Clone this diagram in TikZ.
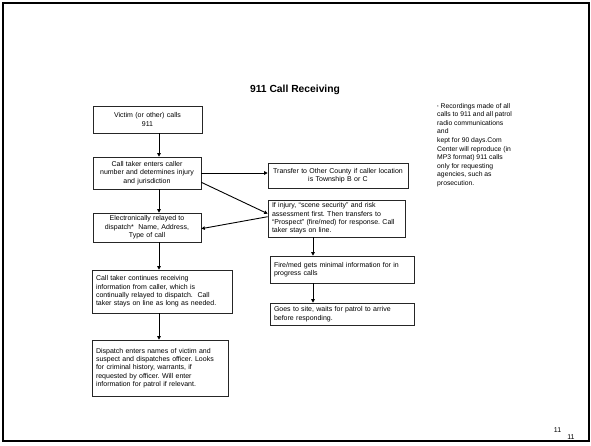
\documentclass[tikz,border=0pt]{standalone}
\usepackage{fontspec}
\setmainfont{Liberation Sans}
\usetikzlibrary{arrows.meta,calc}
\frenchspacing
\begin{document}
\begin{tikzpicture}[x=1pt,y=-1pt,
  box/.style={draw=black!85, line width=0.6pt, inner sep=0pt, fill=white,
    font=\fontsize{7}{8.4}\selectfont},
  cbox/.style={box, align=center},
  lbox/.style={box, align=left},
  arr/.style={line width=0.9pt, -{Triangle[length=3.5pt,width=3.5pt]}},
  small/.style={inner sep=0pt, font=\fontsize{6.8}{8.6}\selectfont}]
\useasboundingbox (0,0) rectangle (591,445);
\draw[line width=2pt] (3,3) rectangle (589,441);

\node[font=\bfseries\fontsize{10.3}{12}\selectfont, inner sep=0pt] (title) at (295,90) {911 Call Receiving};

\node[cbox, minimum width=109, minimum height=27, text width=105] (b1) at (147.5,119.5)
  {Victim (or other) calls\\911};
\node[cbox, minimum width=108, minimum height=32, text width=104] (b2) at (147,173)
  {Call taker enters caller\\number and determines injury\\and jurisdiction};
\node[cbox, minimum width=140, minimum height=25, text width=136] (b3) at (338,175.5)
  {Transfer to Other County if caller location\\is Township B or C};
\node[cbox, minimum width=108, minimum height=29, text width=104] (b4) at (147,227.5)
  {Electronically relayed to\\dispatch*\ \ Name, Address,\\Type of call};
\node[lbox, minimum width=137, minimum height=37, text width=129] (b5) at (336.5,218.5)
  {If injury, “scene security” and risk\\assessment first. Then transfers to\\“Prospect” (fire/med) for response. Call\\taker stays on line.};
\node[lbox, minimum width=144, minimum height=27, text width=136] (b6) at (342,269.5)
  {Fire/med gets minimal information for in\\progress calls};
\node[lbox, minimum width=144, minimum height=22, text width=136] (b7) at (342,314)
  {Goes to site, waits for patrol to arrive\\before responding.};
\node[lbox, minimum width=140, minimum height=43, text width=132] (b8) at (162,291.5)
  {Call taker continues receiving\\information from caller, which is\\continually relayed to dispatch.\ \ Call\\taker stays on line as long as needed.};
\node[lbox, minimum width=136, minimum height=56, text width=128] (b9) at (160,368)
  {Dispatch enters names of victim and\\suspect and dispatches officer. Looks\\for criminal history, warrants, if\\requested by officer. Will enter\\information for patrol if relevant.\\[6pt]};

\node[small, anchor=north west, align=left] (note) at (437,103)
  {{\fontsize{4}{4}\selectfont *} Recordings made of all\\calls to 911 and all patrol\\radio communications\\and\\kept for 90 days.Com\\Center will reproduce (in\\MP3 format) 911 calls\\only for requesting\\agencies, such as\\prosecution.};

\node[inner sep=0pt, font=\fontsize{7}{8}\selectfont] (p1) at (557.5,430) {11};
\node[inner sep=0pt, font=\fontsize{7}{8}\selectfont] (p2) at (571,437) {11};

\coordinate (ax) at (159,0);
\coordinate (axr) at (313,0);
\draw[arr] (b1.south -| ax) -- (b2.north -| ax);
\draw[arr] (b2.south -| ax) -- (b4.north -| ax);
\draw[arr] (b4.south -| ax) -- (b8.north -| ax);
\draw[arr] (b8.south -| ax) -- (b9.north -| ax);
\draw[arr] (b2.east) -- (b2.east -| b3.west);
\draw[arr] ($(b2.south east)+(0,-7)$) -- ($(b5.north west)+(0,14)$);
\draw[arr] ($(b5.north west)+(0,17)$) -- ($(b4.north east)+(0,16)$);
\draw[arr] (b5.south -| axr) -- (b6.north -| axr);
\draw[arr] (b6.south -| axr) -- (b7.north -| axr);
\end{tikzpicture}
\end{document}
